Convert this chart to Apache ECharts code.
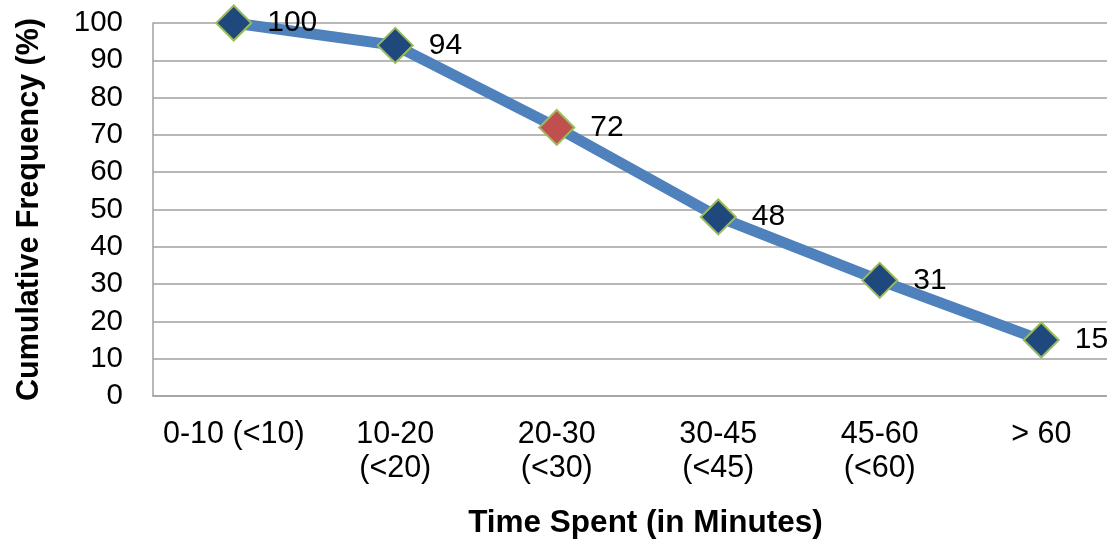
<!DOCTYPE html>
<html>
<head>
<meta charset="utf-8">
<script src="https://cdn.jsdelivr.net/npm/echarts@6/dist/echarts.min.js"></script>
<style>
html,body{margin:0;padding:0;background:#fff;}
#chart{width:1107px;height:542px;}
</style>
</head>
<body>
<div id="chart"></div>
<script>
const categories = ['0-10 (<10)', '10-20\n(<20)', '20-30\n(<30)', '30-45\n(<45)', '45-60\n(<60)', '> 60'];
const values = [100, 94, 72, 48, 31, 15];
const highlightIndex = [2];
const yTicks = [0, 10, 20, 30, 40, 50, 60, 70, 80, 90, 100];

const font = 'Liberation Sans, Arial, sans-serif';
const chart = echarts.init(document.getElementById('chart'));
chart.setOption({
  animation: false,
  grid: { left: 153, top: 23, width: 969, height: 373, containLabel: false, outerBoundsMode: 'none' },
  xAxis: {
    type: 'category',
    data: categories,
    boundaryGap: true,
    axisLine: { show: true, lineStyle: { color: '#a0a0a0', width: 1.5 } },
    axisTick: { show: false },
    axisLabel: { interval: 0, margin: 22, color: '#000', fontSize: 30.5, fontFamily: font, lineHeight: 34 },
    name: 'Time Spent (in Minutes)',
    nameLocation: 'middle',
    nameGap: 111,
    nameTextStyle: { color: '#000', fontSize: 31.5, fontWeight: 'bold', fontFamily: font, padding: [0, 0, 0, 16] }
  },
  yAxis: {
    type: 'value',
    min: yTicks[0],
    max: yTicks[yTicks.length - 1],
    interval: 10,
    axisLine: { show: true, lineStyle: { color: '#a0a0a0', width: 1.5 } },
    axisTick: { show: false },
    splitLine: { show: true, lineStyle: { color: '#a0a0a0', width: 1.5 } },
    axisLabel: { margin: 30, color: '#000', fontSize: 29.5, fontFamily: font },
    name: 'Cumulative Frequency (%)',
    nameLocation: 'middle',
    nameRotate: 90,
    nameGap: 108,
    nameTextStyle: { color: '#000', fontSize: 30.5, fontWeight: 'bold', fontFamily: font }
  },
  series: [{
    type: 'line',
    clip: false,
    data: values.map((v, i) => highlightIndex.includes(i)
      ? { value: v, itemStyle: { color: '#c0504d' } }
      : v),
    symbol: 'diamond',
    symbolSize: 35,
    lineStyle: { color: '#4f81bd', width: 11 },
    itemStyle: { color: '#1f497d', borderColor: '#9bbb59', borderWidth: 2 },
    label: { show: true, position: 'right', distance: 15, color: '#000', fontSize: 30, fontFamily: font },
    z: 3
  }]
});
</script>
</body>
</html>
